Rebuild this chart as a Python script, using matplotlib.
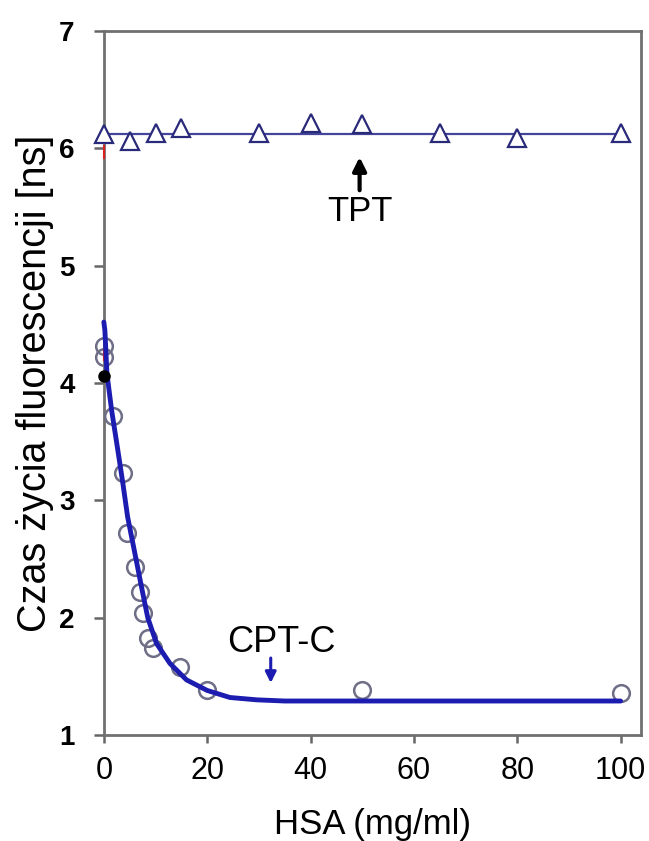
import matplotlib
matplotlib.use("Agg")
import matplotlib.pyplot as plt

plt.rcParams['font.family'] = ['Liberation Sans', 'DejaVu Sans']

# TPT data (triangles)
tpt_x = [0, 5, 10, 15, 30, 40, 50, 65, 80, 100]
tpt_y = [6.12, 6.06, 6.13, 6.17, 6.13, 6.22, 6.21, 6.13, 6.09, 6.13]
tpt_level = 6.12

# CPT-C data (circles)
cpt_x = [0, 0, 1.7, 3.7, 4.5, 6, 7, 7.5, 8.5, 9.5, 14.7, 20, 50, 100]
cpt_y = [4.32, 4.22, 3.72, 3.23, 2.72, 2.43, 2.22, 2.04, 1.83, 1.74, 1.58, 1.38, 1.38, 1.36]

# fitted curve
fit_x = [0.0, 0.2, 0.6, 1.5, 2.7, 3.7, 4.6, 6.0, 7.3, 8.5, 10.2, 12.8, 16, 20, 24.4, 29.6, 35, 100]
fit_y = [4.52, 4.45, 4.08, 3.77, 3.43, 3.14, 2.86, 2.55, 2.26, 2.00, 1.78, 1.61, 1.47, 1.38, 1.32, 1.30, 1.29, 1.29]

black_x = [0]
black_y = [4.06]

xticks = [0, 20, 40, 60, 80, 100]
yticks = [1, 2, 3, 4, 5, 6, 7]

fig = plt.figure(figsize=(6.49, 8.41), dpi=100)
ax = fig.add_axes([0.160, 0.126, 0.828, 0.837])

ax.plot([0, 100], [tpt_level, tpt_level], color='#44449a', lw=1.6, zorder=2)
ax.plot(tpt_x, tpt_y, linestyle='none', marker='^', markersize=13,
        markerfacecolor='white', markeredgecolor='#2a2a7a', markeredgewidth=1.6,
        clip_on=False, zorder=3)

# small red error marks at x = 0
ax.plot([0, 0], [5.92, 6.02], color='#e02020', lw=1.5, zorder=4, clip_on=False)
ax.plot([0, 0], [4.20, 4.28], color='#e02020', lw=1.5, zorder=4, clip_on=False)

ax.plot(cpt_x, cpt_y, linestyle='none', marker='o', markersize=12,
        markerfacecolor='none', markeredgecolor='#6e6e86', markeredgewidth=1.8,
        clip_on=False, zorder=3)
ax.plot(fit_x, fit_y, color='#1c1cb0', lw=3.5, zorder=5, clip_on=False,
        solid_capstyle='round', solid_joinstyle='round')
ax.plot(black_x, black_y, linestyle='none', marker='o', markersize=8,
        color='black', clip_on=False, zorder=6)

ax.set_xlim(0, 104)
ax.set_ylim(1, 7)
ax.set_xticks(xticks)
ax.set_yticks(yticks)
ax.set_xticklabels([str(v) for v in xticks], fontsize=22)
ax.set_yticklabels([str(v) for v in yticks], fontsize=20, fontweight='bold')
ax.tick_params(axis='x', direction='out', length=6, width=1.8, color='#666666', pad=9)
ax.tick_params(axis='y', direction='out', length=7, width=1.8, color='#666666', pad=14)
for s in ax.spines.values():
    s.set_color('#707070')
    s.set_linewidth(2)

ax.set_xlabel('HSA (mg/ml)', fontsize=25, labelpad=16)
ax.set_ylabel('Czas życia fluorescencji [ns]', fontsize=28.5, labelpad=4)

ax.annotate('', xy=(49.5, 5.95), xytext=(49.5, 5.62),
            arrowprops=dict(arrowstyle='-|>', color='black', lw=3, mutation_scale=20))
ax.text(49.5, 5.46, 'TPT', fontsize=25, ha='center', va='center')

ax.annotate('', xy=(32.3, 1.42), xytext=(32.3, 1.68),
            arrowprops=dict(arrowstyle='-|>', color='#1c1cb0', lw=2.2, mutation_scale=16))
ax.text(34.3, 1.79, 'CPT-C', fontsize=26, ha='center', va='center')

fig.savefig('out.png', dpi=100)
